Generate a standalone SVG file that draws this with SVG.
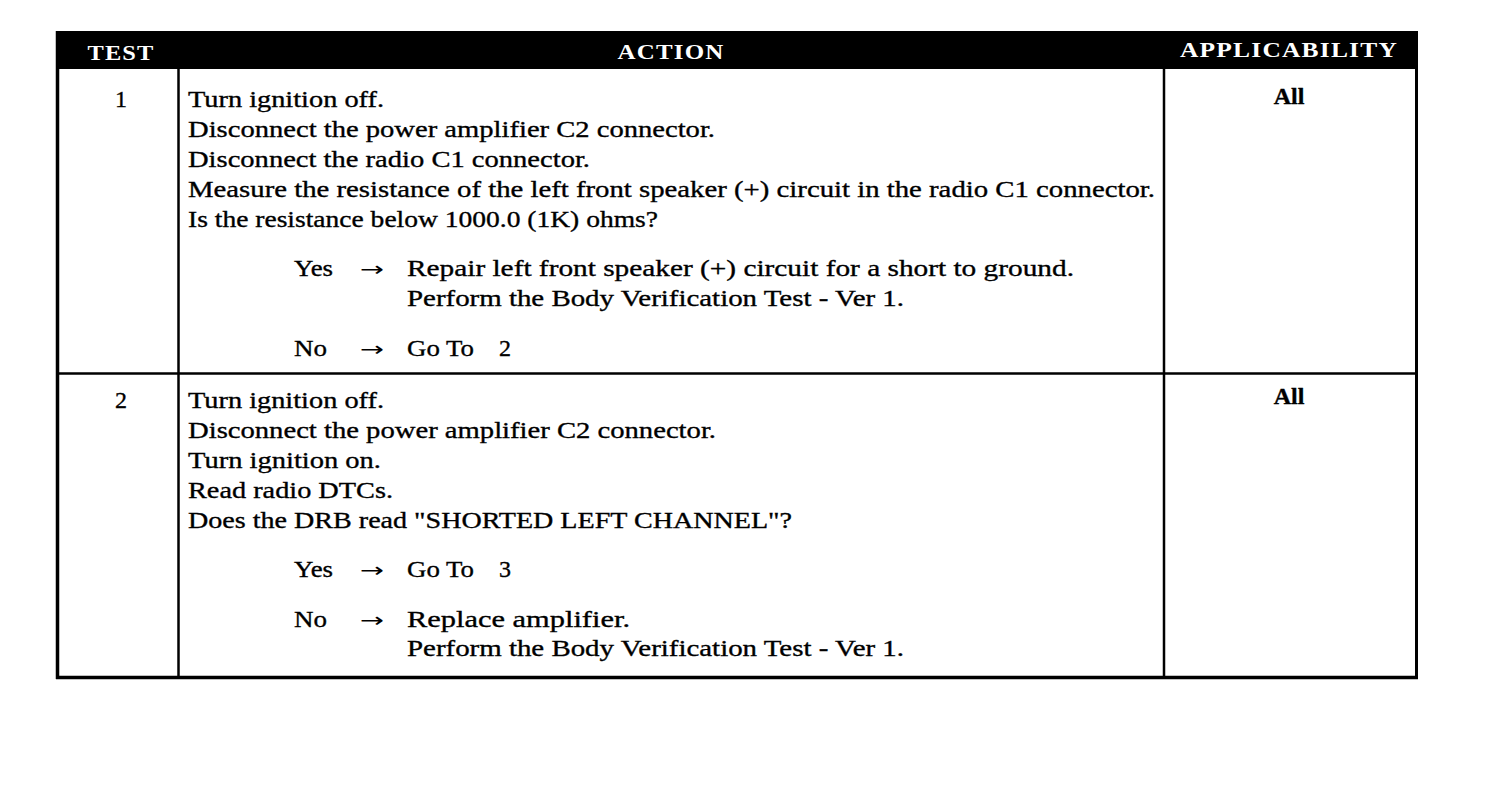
<svg xmlns="http://www.w3.org/2000/svg" width="1504" height="790" viewBox="0 0 1504 790">
<style>
.t{font-family:"Liberation Serif","DejaVu Serif",serif;font-size:24px;fill:#000;stroke:#000;stroke-width:0.35}
.b{font-weight:bold}
.a{font-family:"DejaVu Sans",sans-serif;font-size:20px;fill:#000}
.h{font-family:"Liberation Serif","DejaVu Serif",serif;font-size:21px;fill:#fff;font-weight:bold;letter-spacing:1px}
.c{text-anchor:middle}
.ln{stroke:#000;fill:none}
</style>
<rect width="1504" height="790" fill="#fff"/>
<g id="header">
<rect x="56" y="31" width="1362" height="38" fill="#000"/>
<text class="h c" x="121" y="60" textLength="67" lengthAdjust="spacingAndGlyphs">TEST</text>
<text class="h c" x="671" y="59" textLength="107" lengthAdjust="spacingAndGlyphs">ACTION</text>
<text class="h c" x="1289" y="57" textLength="218" lengthAdjust="spacingAndGlyphs">APPLICABILITY</text>
</g>
<g id="grid" class="ln">
<line x1="57.5" y1="31" x2="57.5" y2="679" stroke-width="3.5"/>
<line x1="1416.5" y1="31" x2="1416.5" y2="679" stroke-width="3"/>
<line x1="56" y1="677.5" x2="1418" y2="677.5" stroke-width="3.5"/>
<line x1="178.5" y1="69" x2="178.5" y2="677" stroke-width="2.5"/>
<line x1="1164" y1="69" x2="1164" y2="677" stroke-width="2.5"/>
<line x1="57" y1="373.5" x2="1416" y2="373.5" stroke-width="2.5"/>
</g>
<g id="row1">
<text class="t c" x="121" y="107">1</text>
<text class="t" x="188" y="107" textLength="196" lengthAdjust="spacingAndGlyphs">Turn ignition off.</text>
<text class="t" x="188" y="137" textLength="527" lengthAdjust="spacingAndGlyphs">Disconnect the power amplifier C2 connector.</text>
<text class="t" x="188" y="167" textLength="402" lengthAdjust="spacingAndGlyphs">Disconnect the radio C1 connector.</text>
<text class="t" x="188" y="197" textLength="967" lengthAdjust="spacingAndGlyphs">Measure the resistance of the left front speaker (+) circuit in the radio C1 connector.</text>
<text class="t" x="188" y="227" textLength="470" lengthAdjust="spacingAndGlyphs">Is the resistance below 1000.0 (1K) ohms?</text>
<text class="t" x="294" y="276" textLength="39" lengthAdjust="spacingAndGlyphs">Yes</text>
<text class="a" x="360" y="276" textLength="24" lengthAdjust="spacingAndGlyphs">→</text>
<text class="t" x="407" y="276" textLength="667" lengthAdjust="spacingAndGlyphs">Repair left front speaker (+) circuit for a short to ground.</text>
<text class="t" x="407" y="306" textLength="497" lengthAdjust="spacingAndGlyphs">Perform the Body Verification Test - Ver 1.</text>
<text class="t" x="294" y="356" textLength="33" lengthAdjust="spacingAndGlyphs">No</text>
<text class="a" x="360" y="356" textLength="24" lengthAdjust="spacingAndGlyphs">→</text>
<text class="t" x="407" y="356" textLength="67" lengthAdjust="spacingAndGlyphs">Go To</text>
<text class="t" x="499" y="356">2</text>
<text class="t c b" x="1289" y="104">All</text>
</g>
<g id="row2">
<text class="t c" x="121" y="408">2</text>
<text class="t" x="188" y="408" textLength="196" lengthAdjust="spacingAndGlyphs">Turn ignition off.</text>
<text class="t" x="188" y="438" textLength="528" lengthAdjust="spacingAndGlyphs">Disconnect the power amplifier C2 connector.</text>
<text class="t" x="188" y="468" textLength="193" lengthAdjust="spacingAndGlyphs">Turn ignition on.</text>
<text class="t" x="188" y="498" textLength="205" lengthAdjust="spacingAndGlyphs">Read radio DTCs.</text>
<text class="t" x="188" y="528" textLength="604" lengthAdjust="spacingAndGlyphs">Does the DRB read "SHORTED LEFT CHANNEL"?</text>
<text class="t" x="294" y="577" textLength="39" lengthAdjust="spacingAndGlyphs">Yes</text>
<text class="a" x="360" y="577" textLength="24" lengthAdjust="spacingAndGlyphs">→</text>
<text class="t" x="407" y="577" textLength="67" lengthAdjust="spacingAndGlyphs">Go To</text>
<text class="t" x="499" y="577">3</text>
<text class="t" x="294" y="627" textLength="33" lengthAdjust="spacingAndGlyphs">No</text>
<text class="a" x="360" y="627" textLength="24" lengthAdjust="spacingAndGlyphs">→</text>
<text class="t" x="407" y="627" textLength="223" lengthAdjust="spacingAndGlyphs">Replace amplifier.</text>
<text class="t" x="407" y="656" textLength="497" lengthAdjust="spacingAndGlyphs">Perform the Body Verification Test - Ver 1.</text>
<text class="t c b" x="1289" y="404">All</text>
</g>
</svg>
